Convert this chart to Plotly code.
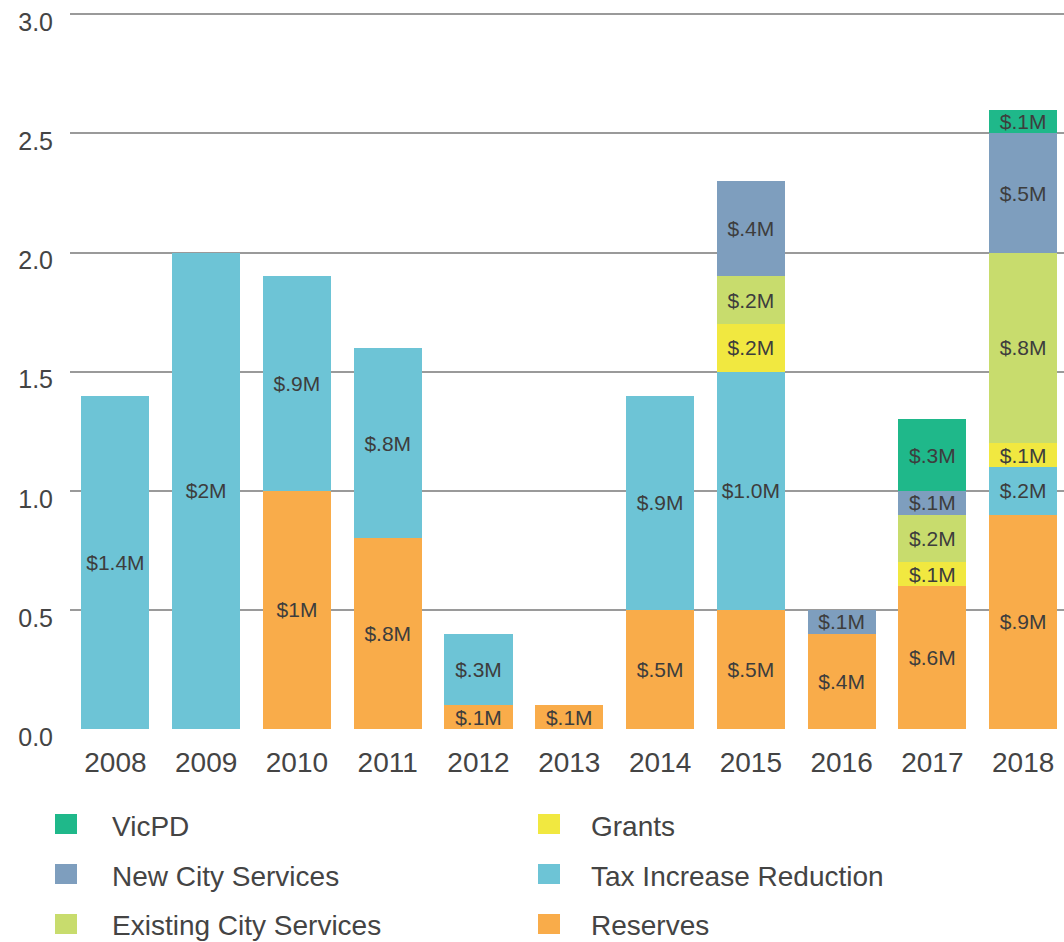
import plotly.graph_objects as go

years = ["2008", "2009", "2010", "2011", "2012", "2013", "2014", "2015", "2016", "2017", "2018"]

reserves = [None, None, 1.0, 0.8, 0.1, 0.1, 0.5, 0.5, 0.4, 0.6, 0.9]
tax_reduction = [1.4, 2.0, 0.9, 0.8, 0.3, None, 0.9, 1.0, None, None, 0.2]
grants = [None, None, None, None, None, None, None, 0.2, None, 0.1, 0.1]
existing_services = [None, None, None, None, None, None, None, 0.2, None, 0.2, 0.8]
new_services = [None, None, None, None, None, None, None, 0.4, 0.1, 0.1, 0.5]
vicpd = [None, None, None, None, None, None, None, None, None, 0.3, 0.1]

reserves_lbl = ["", "", "$1M", "$.8M", "$.1M", "$.1M", "$.5M", "$.5M", "$.4M", "$.6M", "$.9M"]
tax_lbl = ["$1.4M", "$2M", "$.9M", "$.8M", "$.3M", "", "$.9M", "$1.0M", "", "", "$.2M"]
grants_lbl = ["", "", "", "", "", "", "", "$.2M", "", "$.1M", "$.1M"]
existing_lbl = ["", "", "", "", "", "", "", "$.2M", "", "$.2M", "$.8M"]
new_lbl = ["", "", "", "", "", "", "", "$.4M", "$.1M", "$.1M", "$.5M"]
vicpd_lbl = ["", "", "", "", "", "", "", "", "", "$.3M", "$.1M"]

y_ticks = [0, 0.5, 1.0, 1.5, 2.0, 2.5, 3.0]
y_tick_text = ["0.0", "0.5", "1.0", "1.5", "2.0", "2.5", "3.0"]

series = [
    ("Reserves", reserves, reserves_lbl, "#F9AC4A"),
    ("Tax Increase Reduction", tax_reduction, tax_lbl, "#6DC4D6"),
    ("Grants", grants, grants_lbl, "#F1E840"),
    ("Existing City Services", existing_services, existing_lbl, "#C8DC6D"),
    ("New City Services", new_services, new_lbl, "#7E9EBE"),
    ("VicPD", vicpd, vicpd_lbl, "#1FB88A"),
]

FONT = "Liberation Sans, Arial, Helvetica, sans-serif"
TXT = "#3d3d3d"

fig = go.Figure()
for name, vals, lbls, color in series:
    fig.add_trace(go.Bar(
        name=name, x=years, y=vals, text=lbls,
        marker=dict(color=color, line=dict(width=0)),
        textposition="inside", insidetextanchor="middle",
        textfont=dict(family=FONT, size=21, color=TXT),
        hoverinfo="skip", showlegend=False,
    ))

W, H = 1064, 942
ML, MR, MT, MB = 70, 0, 12, 213
plot_h = H - MT - MB
plot_w = W - ML - MR

def py(p):
    return (H - MB - p) / plot_h

def px(p):
    return (p - ML) / plot_w

legend_items = [
    ("VicPD", "#1FB88A", 55, 110, 824),
    ("New City Services", "#7E9EBE", 55, 110, 874),
    ("Existing City Services", "#C8DC6D", 55, 110, 924),
    ("Grants", "#F1E840", 538, 589, 824),
    ("Tax Increase Reduction", "#6DC4D6", 538, 589, 874),
    ("Reserves", "#F9AC4A", 538, 589, 924),
]
shapes = []
annotations = []
for name, color, sx, tx, cy in legend_items:
    shapes.append(dict(type="rect", xref="paper", yref="paper",
                       x0=px(sx), x1=px(sx + 22), y0=py(cy - 10), y1=py(cy + 10),
                       fillcolor=color, line=dict(width=0)))
    annotations.append(dict(xref="paper", yref="paper", x=px(tx), y=py(cy + 2),
                            text=name, showarrow=False, xanchor="left", yanchor="middle",
                            font=dict(family=FONT, size=28, color="#444444")))

fig.update_layout(
    barmode="stack", bargap=0.25,
    width=W, height=H,
    margin=dict(l=ML, r=MR, t=MT, b=MB),
    paper_bgcolor="white", plot_bgcolor="white",
    font=dict(family=FONT, color="#444444"),
    uniformtext=dict(minsize=21, mode="show"),
    shapes=shapes, annotations=annotations,
    xaxis=dict(range=[-0.5, 10.45], showgrid=False, showline=False, zeroline=False,
               ticks="", tickfont=dict(family=FONT, size=28, color="#444444"),
               ticklabelstandoff=14, fixedrange=True),
    yaxis=dict(range=[0, 3.01], tickvals=y_ticks, ticktext=y_tick_text,
               showgrid=True, gridcolor="#9a9a9a", gridwidth=2,
               zeroline=False, showline=False, ticks="",
               tickfont=dict(family=FONT, size=25, color="#444444"),
               ticklabelshift=8, ticklabelstandoff=16,
               fixedrange=True),
)

fig.write_html("out.html")
